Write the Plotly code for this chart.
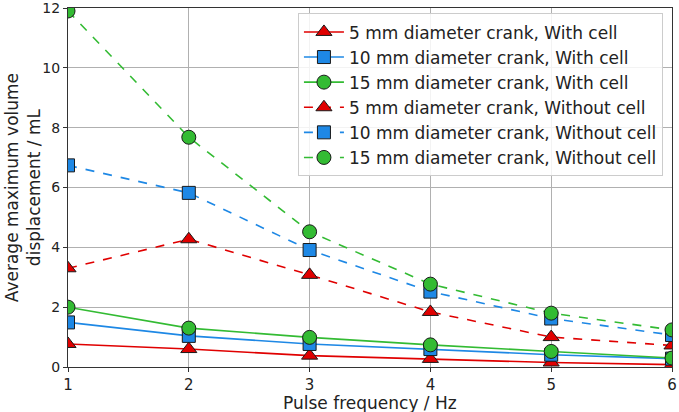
import plotly.graph_objects as go

freq = [1, 2, 3, 4, 5, 6]
with_5 = [0.77, 0.60, 0.38, 0.27, 0.15, 0.08]
with_10 = [1.49, 1.04, 0.77, 0.60, 0.41, 0.28]
with_15 = [2.00, 1.30, 0.99, 0.74, 0.52, 0.30]
without_5 = [3.30, 4.27, 3.08, 1.84, 1.00, 0.72]
without_10 = [6.74, 5.82, 3.91, 2.52, 1.62, 1.07]
without_15 = [11.9, 7.68, 4.52, 2.77, 1.80, 1.24]

names = [
    "5 mm diameter crank, With cell",
    "10 mm diameter crank, With cell",
    "15 mm diameter crank, With cell",
    "5 mm diameter crank, Without cell",
    "10 mm diameter crank, Without cell",
    "15 mm diameter crank, Without cell",
]
series = [with_5, with_10, with_15, without_5, without_10, without_15]
colors = ["#e00000", "#1e88e5", "#33bb33"] * 2
symbols = ["triangle-up", "square", "circle"] * 2
dashes = ["solid"] * 3 + ["dash"] * 3

fig = go.Figure()
for nm, ys, c, s, d in zip(names, series, colors, symbols, dashes):
    fig.add_trace(go.Scatter(
        x=freq, y=ys, name=nm, mode="lines+markers",
        line=dict(color=c, width=1.6, dash=d),
        marker=dict(symbol=s, size=14 if s != "square" else 13, color=c,
                    line=dict(color="#1a1a1a", width=1)),
        cliponaxis=True,
    ))

fig.update_layout(
    width=679, height=412,
    margin=dict(l=68, r=7, t=8, b=45),
    plot_bgcolor="white", paper_bgcolor="white",
    font=dict(family="DejaVu Sans", size=14, color="#222"),
    legend=dict(x=0.985, y=0.985, xanchor="right", yanchor="top",
                bgcolor="rgba(255,255,255,0.85)", bordercolor="#cccccc", borderwidth=1,
                font=dict(size=17), tracegroupgap=2, itemwidth=40),
    showlegend=True,
    annotations=[
        dict(text="Pulse frequency / Hz", xref="paper", yref="paper",
             x=0.5, y=-0.099, xanchor="center", yanchor="middle",
             showarrow=False, font=dict(size=17, color="#222")),
        dict(text="Average maximum volume<br>displacement / mL", xref="paper", yref="paper",
             x=-0.075, y=0.5, xanchor="center", yanchor="middle", textangle=-90,
             showarrow=False, font=dict(size=17, color="#222")),
    ],
)
fig.update_xaxes(range=[1, 6], dtick=1, showgrid=True, gridcolor="#b0b0b0", gridwidth=1,
                 showline=True, linecolor="#333", linewidth=1.2, mirror=True,
                 ticks="outside", ticklen=4, tickcolor="#333", ticklabeloverflow="allow",
                 tickfont=dict(size=15), automargin=False, zeroline=False)
fig.update_yaxes(range=[0, 12], dtick=2, showgrid=True, gridcolor="#b0b0b0", gridwidth=1,
                 showline=True, linecolor="#333", linewidth=1.2, mirror=True,
                 ticks="outside", ticklen=4, tickcolor="#333", ticklabeloverflow="allow",
                 tickfont=dict(size=14), automargin=False, zeroline=False)

fig.write_html("out.html")
